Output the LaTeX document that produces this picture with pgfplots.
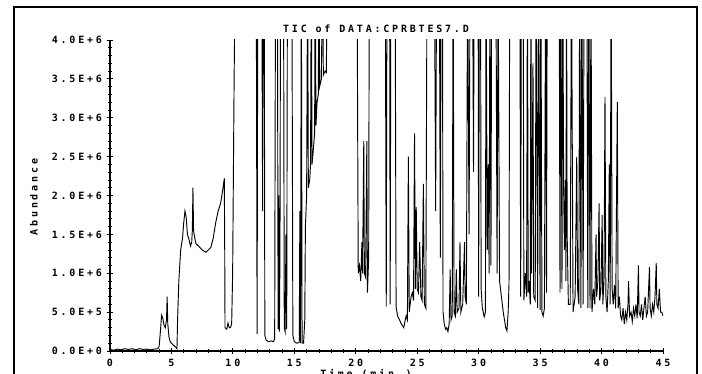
\documentclass[border=0pt]{standalone}
\usepackage{fontspec}
\usepackage{pgfplots}
\pgfplotsset{compat=1.18}
\newfontfamily\plotfont[LetterSpace=28]{DejaVu Sans Mono Bold}
\newcommand\pf{\plotfont\fontsize{7.5}{9}\selectfont}
\begin{document}
\begin{tikzpicture}
\path[use as bounding box] (-82.5pt,-17.25pt) rectangle (444pt,263.25pt);
\clip (-82.5pt,-17.25pt) rectangle (444pt,263.25pt);
\begin{axis}[
 at={(0pt,0pt)}, anchor=south west, scale only axis, width=414.75pt, height=233.25pt,
 xmin=0,xmax=45,ymin=0,ymax=4,
 axis x line=bottom, axis y line=left, axis line style={-, line width=1pt},
 xtick={0,5,...,45}, xticklabels={0,5,10,15,20,25,30,35,40,45},
 ytick={0,0.5,...,4}, yticklabels={0.0E+0,5.0E+5,1.0E+6,1.5E+6,2.0E+6,2.5E+6,3.0E+6,3.5E+6,4.0E+6},
 minor x tick num=4, minor y tick num=4,
 tick align=center, major tick length=5pt, minor tick length=3pt,
 tick style={black, line width=0.6pt},
 ticklabel style={font=\pf},
 clip=true,
]
\addplot[black, line width=0.7pt] coordinates {
(0,0.02)(0.3,0.01)(0.6,0.025)(0.9,0.015)(1.2,0.03)(1.5,0.02)(1.8,0.03)(2.1,0.015)(2.4,0.03)(2.7,0.02)(3.0,0.025)(3.3,0.015)(3.6,0.025)(3.9,0.03)
(4.0,0.06)(4.1,0.25)(4.2,0.46)(4.3,0.42)(4.4,0.33)(4.5,0.30)(4.6,0.40)(4.65,0.70)(4.7,0.35)(4.8,0.18)(4.9,0.12)(5.0,0.10)(5.2,0.07)(5.4,0.04)(5.45,0.03)
(5.5,0.40)(5.6,0.90)(5.75,1.30)(5.9,1.45)(6.0,1.65)(6.1,1.80)(6.2,1.72)(6.3,1.50)(6.4,1.45)(6.55,1.35)(6.65,1.40)(6.7,1.55)(6.75,2.10)(6.8,1.55)(6.9,1.45)(7.0,1.38)(7.2,1.35)(7.5,1.30)(7.8,1.27)(8.0,1.30)(8.2,1.33)(8.4,1.45)(8.6,1.65)(8.8,1.80)(9.0,1.90)(9.2,2.10)(9.3,2.22)(9.33,1.5)(9.36,0.30)(9.5,0.28)(9.6,0.36)(9.7,0.30)(9.8,0.30)(9.9,0.35)(9.98,1.0)(10.1,3.5)(10.2,5)
(11.9,5)(11.97,0.22)(12.03,5)(12.35,5)(12.42,1.8)(12.48,5)(12.55,5)(12.6,0.2)(12.7,0.14)(12.9,0.12)(13.1,0.13)(13.3,0.12)(13.4,0.16)(13.47,5)
(13.62,5)(13.68,0.28)(13.73,2.0)(13.78,0.25)(13.83,1.2)(13.88,5)(14.12,5)(14.18,0.3)(14.25,0.25)(14.32,1.5)(14.38,0.28)(14.44,5)
(14.8,5)(14.88,0.2)(15.0,0.12)(15.2,0.1)(15.4,0.11)(15.45,1.8)(15.5,0.1)(15.57,5)(15.63,0.1)(15.75,0.1)(15.85,0.4)(15.9,1.6)(16.0,2.0)
(16.08,5)(16.14,2.1)(16.25,2.2)(16.32,2.4)(16.38,5)(16.44,2.4)(16.55,2.6)(16.65,2.8)(16.7,5)(16.76,2.9)(16.85,3.2)(16.95,3.3)(17.0,5)(17.06,3.4)(17.2,3.5)(17.3,5)(17.36,3.55)(17.5,3.6)(17.6,3.58)(17.7,5)
(20.1,5)(20.2,1.0)(20.3,1.1)(20.4,0.9)(20.5,1.4)(20.55,1.0)(20.65,2.7)(20.7,1.0)(20.8,0.95)(20.9,2.7)(20.95,0.75)(21.05,1.2)(21.1,5)
(22.4,5)(22.48,0.57)(22.54,5)(22.75,5)(22.8,0.6)(22.86,5)(23.2,5)(23.28,0.57)(23.4,0.45)(23.5,0.42)(23.7,0.35)(23.9,0.30)(24.0,0.38)(24.1,0.45)(24.2,0.40)(24.28,2.5)(24.35,0.5)(24.5,0.7)(24.6,0.75)(24.7,0.65)(24.78,2.8)(24.85,0.8)(24.92,1.85)(25.0,0.8)(25.1,0.75)(25.2,1.4)(25.3,0.7)(25.4,0.65)(25.5,2.15)(25.58,0.6)(25.7,0.55)(25.8,5)
(26.4,5)(26.5,1.8)(26.58,5)(26.8,5)(26.88,1.2)(26.95,5)(27.05,5)(27.1,0.5)(27.2,0.35)(27.3,0.28)(27.4,0.3)(27.5,0.25)(27.6,0.35)(27.68,1.05)(27.75,0.4)(27.85,0.45)(27.92,5)(28.0,0.5)(28.1,0.45)(28.18,1.05)(28.25,0.5)(28.4,0.55)(28.48,1.4)(28.55,0.5)(28.7,0.6)(28.85,1.4)(28.9,0.7)(29.0,0.6)(29.1,5)(29.22,1.5)(29.3,5)
(29.5,5)(29.58,2.3)(29.64,5)(29.95,5)(30.0,0.7)(30.06,5)(30.15,5)(30.2,0.8)(30.3,0.55)(30.45,0.44)(30.55,0.5)(30.6,5)(30.7,1.3)(30.78,2.4)(30.85,1.0)(30.92,5)(31.0,1.1)(31.06,5)(31.4,5)(31.5,1.0)(31.58,5)(31.7,0.9)(31.85,0.7)(32.0,0.5)(32.1,0.4)(32.2,0.3)(32.3,0.26)(32.4,0.5)(32.47,0.87)(32.53,5)
(33.35,5)(33.42,0.7)(33.48,5)(33.62,5)(33.68,0.65)(33.8,1.0)(33.9,0.7)(33.97,5)(34.03,0.75)(34.1,0.9)(34.2,0.6)(34.25,5)(34.3,1.0)(34.42,3.7)(34.48,0.7)(34.6,0.65)(34.68,5)(34.8,0.55)(34.88,5)(35.0,0.53)(35.06,5)(35.15,0.5)(35.25,0.45)(35.35,0.55)(35.45,5)(35.52,0.75)(35.58,5)
(36.55,5)(36.62,0.75)(36.68,5)(36.78,0.8)(36.84,5)(36.92,2.0)(36.98,1.3)(37.05,2.2)(37.1,0.9)(37.15,5)(37.2,1.5)(37.3,0.6)(37.45,0.6)(37.55,5)(37.68,0.5)(37.85,0.7)(37.98,2.5)(38.05,0.8)(38.15,0.6)(38.22,5)(38.32,0.55)(38.4,5)(38.5,0.6)(38.58,5)
(38.8,5)(38.88,0.55)(38.96,5)(39.06,0.55)(39.14,5)(39.22,0.5)(39.35,0.8)(39.45,0.6)(39.55,1.5)(39.6,0.7)(39.7,0.9)(39.8,1.9)(39.85,0.65)(39.95,0.8)(40.05,1.75)(40.1,0.6)(40.2,0.9)(40.28,3.27)(40.35,0.7)(40.45,0.5)(40.55,0.9)(40.63,2.4)(40.7,0.6)(40.78,5)(40.86,0.8)(40.95,0.6)(41.05,0.85)(41.15,0.55)(41.28,3.2)(41.35,0.55)(41.45,0.7)(41.55,0.45)(41.65,0.4)(41.75,0.55)(41.85,0.35)(41.95,0.5)(42.05,0.4)(42.15,0.6)(42.2,0.9)(42.28,0.45)(42.4,0.5)(42.5,0.38)(42.6,0.55)(42.7,0.45)(42.8,0.6)(42.9,0.42)(43.0,1.1)(43.05,0.5)(43.15,0.45)(43.25,0.6)(43.35,0.4)(43.45,0.55)(43.55,0.7)(43.65,0.45)(43.75,0.5)(43.9,1.08)(43.95,0.55)(44.05,0.45)(44.15,0.6)(44.25,0.5)(44.35,0.7)(44.45,1.13)(44.5,0.6)(44.6,0.55)(44.7,0.8)(44.8,0.5)(44.9,0.5)(45,0.45)
};
\end{axis}
\draw[line width=1.2pt] (-72pt,-30pt) rectangle (440.25pt,258pt);
\node[font=\pf] at (199.5pt,241.5pt) {TIC of DATA:CPRBTES7.D};
\node[font=\pf, rotate=90] at (-57pt,115.5pt) {Abundance};
\node[font=\pf] at (192pt,-17pt) {Time (min.)};
\end{tikzpicture}
\end{document}
